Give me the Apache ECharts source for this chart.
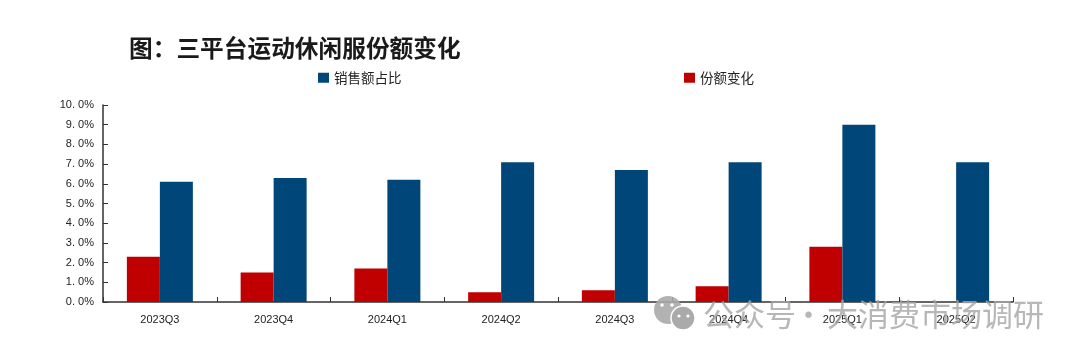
<!DOCTYPE html>
<html><head><meta charset="utf-8">
<style>html,body{margin:0;padding:0;background:#fff}#c{width:1080px;height:359px}</style>
<script src="https://cdn.jsdelivr.net/npm/echarts@6/dist/echarts.min.js"></script>
</head><body><div id="c"></div>
<script>
const categories = ['2023Q3','2023Q4','2024Q1','2024Q2','2024Q3','2024Q4','2025Q1','2025Q2'];
const shareChange = [2.3,1.5,1.7,0.5,0.6,0.8,2.8,null];
const salesShare = [6.1,6.3,6.2,7.1,6.7,7.1,9.0,7.1];
const titleText = '图：三平台运动休闲服份额变化';
const watermarkParts = ['公众号','·','大消费市场调研'];
const cjk = '"Noto Sans CJK SC","Liberation Sans",sans-serif';
const chart = echarts.init(document.getElementById('c'), null, {renderer:'canvas'});
const wm = 'rgba(165,165,165,0.8)';
const wmText = (t,x) => ({type:'text',left:x,top:299,z:100,style:{text:t,fontFamily:cjk,fontSize:31,fill:wm}});
chart.setOption({
  animation:false,
  backgroundColor:'#fff',
  title:{text:titleText,left:124,top:31,textStyle:{fontFamily:cjk,fontSize:23.7,fontWeight:'bold',color:'#1a1a1a'}},
  legend:[
    {data:['销售额占比'],left:313,top:66,icon:'rect',itemWidth:11,itemHeight:10,itemGap:4,textStyle:{fontFamily:cjk,fontSize:13.5,color:'#222'}},
    {data:['份额变化'],left:679,top:66,icon:'rect',itemWidth:11,itemHeight:10,itemGap:4,textStyle:{fontFamily:cjk,fontSize:13.5,color:'#222'}}
  ],
  grid:{left:103,right:67,top:105,bottom:57},
  xAxis:{type:'category',data:categories,
    axisLine:{lineStyle:{color:'#333',width:1.5}},
    axisTick:{show:true,inside:true,length:5,alignWithLabel:false,lineStyle:{color:'#333'}},
    axisLabel:{fontFamily:'"Liberation Sans",sans-serif',fontSize:11,color:'#222',margin:12}},
  yAxis:{type:'value',min:0,max:10,interval:1,
    splitLine:{show:false},
    axisLine:{show:true,lineStyle:{color:'#333',width:1.5}},
    axisTick:{show:true,inside:true,length:5,lineStyle:{color:'#333'}},
    axisLabel:{fontFamily:'"Liberation Sans",sans-serif',fontSize:11,color:'#222',margin:9,padding:[3,0,0,0],
      formatter:v=>v.toFixed(1).replace('.','. ')+'%'}},
  series:[
    {name:'份额变化',type:'bar',data:shareChange,barWidth:33,barGap:'0%',itemStyle:{color:'#c00000'}},
    {name:'销售额占比',type:'bar',data:salesShare,barWidth:33,barGap:'0%',itemStyle:{color:'#004679'}}
  ],
  graphic:[
    wmText(watermarkParts[0],703), wmText(watermarkParts[1],793), wmText(watermarkParts[2],827),
    {type:'group',z:100,children:[
      {type:'circle',shape:{cx:668,cy:310,r:14},style:{fill:'rgba(170,170,170,0.9)'},z:100},
      {type:'circle',shape:{cx:683,cy:318,r:12},style:{fill:'rgba(170,170,170,1)',stroke:'#fff',lineWidth:1.5},z:101},
      {type:'circle',shape:{cx:662,cy:305,r:1.8},style:{fill:'#fff'},z:102},
      {type:'circle',shape:{cx:672,cy:305,r:1.8},style:{fill:'#fff'},z:102},
      {type:'circle',shape:{cx:679,cy:316,r:1.6},style:{fill:'#fff'},z:102},
      {type:'circle',shape:{cx:688,cy:316,r:1.6},style:{fill:'#fff'},z:102}
    ]}
  ]
});
</script></body></html>
